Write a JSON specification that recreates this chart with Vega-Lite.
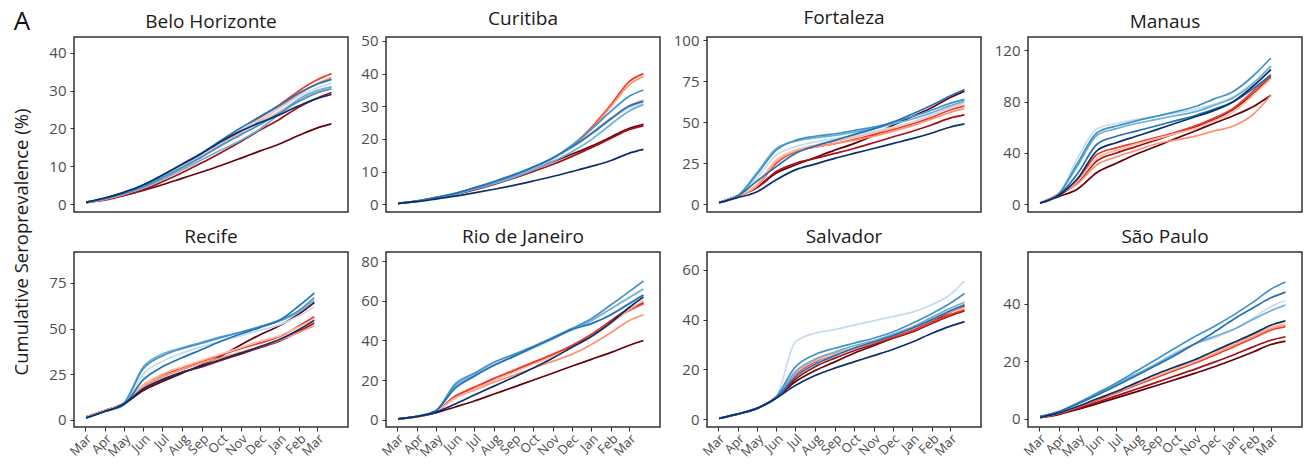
{
"$schema": "https://vega.github.io/schema/vega-lite/v6.json",
"background": "white",
"padding": {"left": 4, "top": 8, "right": 5, "bottom": 2},
"datasets": {
"bh": [
{"s":1,"d":"2020-03-03","v":0.4},{"s":1,"d":"2020-04-01","v":1.3},{"s":1,"d":"2020-05-01","v":2.3},{"s":1,"d":"2020-06-01","v":3.6},{"s":1,"d":"2020-07-01","v":5.1},{"s":1,"d":"2020-08-01","v":6.8},{"s":1,"d":"2020-09-01","v":8.5},{"s":1,"d":"2020-10-01","v":10.2},{"s":1,"d":"2020-11-01","v":12.1},{"s":1,"d":"2020-12-01","v":14},{"s":1,"d":"2021-01-01","v":15.9},{"s":1,"d":"2021-02-01","v":18.2},{"s":1,"d":"2021-03-01","v":20.1},{"s":1,"d":"2021-03-24","v":21.2},
{"s":2,"d":"2020-03-03","v":0.4},{"s":2,"d":"2020-04-01","v":1.0},{"s":2,"d":"2020-05-01","v":2.2},{"s":2,"d":"2020-06-01","v":3.8},{"s":2,"d":"2020-07-01","v":5.9},{"s":2,"d":"2020-08-01","v":8.3},{"s":2,"d":"2020-09-01","v":10.9},{"s":2,"d":"2020-10-01","v":13.6},{"s":2,"d":"2020-11-01","v":16.5},{"s":2,"d":"2020-12-01","v":19.5},{"s":2,"d":"2021-01-01","v":22.4},{"s":2,"d":"2021-02-01","v":25.7},{"s":2,"d":"2021-03-01","v":28.0},{"s":2,"d":"2021-03-24","v":29.5},
{"s":3,"d":"2020-03-03","v":0.4},{"s":3,"d":"2020-04-01","v":1.2},{"s":3,"d":"2020-05-01","v":2.6},{"s":3,"d":"2020-06-01","v":4.5},{"s":3,"d":"2020-07-01","v":6.9},{"s":3,"d":"2020-08-01","v":9.7},{"s":3,"d":"2020-09-01","v":12.8},{"s":3,"d":"2020-10-01","v":15.9},{"s":3,"d":"2020-11-01","v":19.3},{"s":3,"d":"2020-12-01","v":22.8},{"s":3,"d":"2021-01-01","v":26.2},{"s":3,"d":"2021-02-01","v":30.0},{"s":3,"d":"2021-03-01","v":32.8},{"s":3,"d":"2021-03-24","v":34.5},
{"s":4,"d":"2020-03-03","v":0.4},{"s":4,"d":"2020-04-01","v":1.2},{"s":4,"d":"2020-05-01","v":2.5},{"s":4,"d":"2020-06-01","v":4.4},{"s":4,"d":"2020-07-01","v":6.7},{"s":4,"d":"2020-08-01","v":9.4},{"s":4,"d":"2020-09-01","v":12.4},{"s":4,"d":"2020-10-01","v":15.4},{"s":4,"d":"2020-11-01","v":18.8},{"s":4,"d":"2020-12-01","v":22.1},{"s":4,"d":"2021-01-01","v":25.5},{"s":4,"d":"2021-02-01","v":29.1},{"s":4,"d":"2021-03-01","v":31.8},{"s":4,"d":"2021-03-24","v":33.5},
{"s":5,"d":"2020-03-03","v":0.5},{"s":5,"d":"2020-04-01","v":1.4},{"s":5,"d":"2020-05-01","v":2.8},{"s":5,"d":"2020-06-01","v":4.6},{"s":5,"d":"2020-07-01","v":7.1},{"s":5,"d":"2020-08-01","v":9.9},{"s":5,"d":"2020-09-01","v":12.7},{"s":5,"d":"2020-10-01","v":15.8},{"s":5,"d":"2020-11-01","v":18.9},{"s":5,"d":"2020-12-01","v":21.7},{"s":5,"d":"2021-01-01","v":24.5},{"s":5,"d":"2021-02-01","v":27.6},{"s":5,"d":"2021-03-01","v":29.8},{"s":5,"d":"2021-03-24","v":31},
{"s":6,"d":"2020-03-03","v":0.5},{"s":6,"d":"2020-04-01","v":1.4},{"s":6,"d":"2020-05-01","v":2.9},{"s":6,"d":"2020-06-01","v":4.8},{"s":6,"d":"2020-07-01","v":7.4},{"s":6,"d":"2020-08-01","v":10.2},{"s":6,"d":"2020-09-01","v":13.1},{"s":6,"d":"2020-10-01","v":16.3},{"s":6,"d":"2020-11-01","v":19.5},{"s":6,"d":"2020-12-01","v":22.4},{"s":6,"d":"2021-01-01","v":25.3},{"s":6,"d":"2021-02-01","v":28.5},{"s":6,"d":"2021-03-01","v":30.7},{"s":6,"d":"2021-03-24","v":32},
{"s":7,"d":"2020-03-03","v":0.5},{"s":7,"d":"2020-04-01","v":1.3},{"s":7,"d":"2020-05-01","v":2.6},{"s":7,"d":"2020-06-01","v":4.3},{"s":7,"d":"2020-07-01","v":6.5},{"s":7,"d":"2020-08-01","v":9.0},{"s":7,"d":"2020-09-01","v":11.7},{"s":7,"d":"2020-10-01","v":14.3},{"s":7,"d":"2020-11-01","v":16.8},{"s":7,"d":"2020-12-01","v":19.8},{"s":7,"d":"2021-01-01","v":23.8},{"s":7,"d":"2021-02-01","v":27.8},{"s":7,"d":"2021-03-01","v":30.0},{"s":7,"d":"2021-03-24","v":31},
{"s":8,"d":"2020-03-03","v":0.5},{"s":8,"d":"2020-04-01","v":1.4},{"s":8,"d":"2020-05-01","v":2.8},{"s":8,"d":"2020-06-01","v":4.6},{"s":8,"d":"2020-07-01","v":7.0},{"s":8,"d":"2020-08-01","v":9.7},{"s":8,"d":"2020-09-01","v":12.5},{"s":8,"d":"2020-10-01","v":15.5},{"s":8,"d":"2020-11-01","v":18.3},{"s":8,"d":"2020-12-01","v":21.0},{"s":8,"d":"2021-01-01","v":24.0},{"s":8,"d":"2021-02-01","v":27.2},{"s":8,"d":"2021-03-01","v":29.4},{"s":8,"d":"2021-03-24","v":30.5},
{"s":9,"d":"2020-03-03","v":0.5},{"s":9,"d":"2020-04-01","v":1.5},{"s":9,"d":"2020-05-01","v":3.0},{"s":9,"d":"2020-06-01","v":5.0},{"s":9,"d":"2020-07-01","v":7.6},{"s":9,"d":"2020-08-01","v":10.6},{"s":9,"d":"2020-09-01","v":13.5},{"s":9,"d":"2020-10-01","v":16.8},{"s":9,"d":"2020-11-01","v":20.1},{"s":9,"d":"2020-12-01","v":23.1},{"s":9,"d":"2021-01-01","v":26.1},{"s":9,"d":"2021-02-01","v":29.4},{"s":9,"d":"2021-03-01","v":31.7},{"s":9,"d":"2021-03-24","v":33},
{"s":10,"d":"2020-03-03","v":0.5},{"s":10,"d":"2020-04-01","v":1.6},{"s":10,"d":"2020-05-01","v":3.1},{"s":10,"d":"2020-06-01","v":5.1},{"s":10,"d":"2020-07-01","v":7.7},{"s":10,"d":"2020-08-01","v":10.5},{"s":10,"d":"2020-09-01","v":13.4},{"s":10,"d":"2020-10-01","v":16.5},{"s":10,"d":"2020-11-01","v":19.3},{"s":10,"d":"2020-12-01","v":21.5},{"s":10,"d":"2021-01-01","v":23.6},{"s":10,"d":"2021-02-01","v":26.0},{"s":10,"d":"2021-03-01","v":27.9},{"s":10,"d":"2021-03-24","v":29}
],
"cu": [
{"s":1,"d":"2020-03-03","v":0.3},{"s":1,"d":"2020-04-01","v":1.0},{"s":1,"d":"2020-05-01","v":2.0},{"s":1,"d":"2020-06-01","v":3.3},{"s":1,"d":"2020-07-01","v":4.9},{"s":1,"d":"2020-08-01","v":6.7},{"s":1,"d":"2020-09-01","v":8.7},{"s":1,"d":"2020-10-01","v":10.8},{"s":1,"d":"2020-11-01","v":13.0},{"s":1,"d":"2020-12-01","v":15.3},{"s":1,"d":"2021-01-01","v":17.8},{"s":1,"d":"2021-02-01","v":20.6},{"s":1,"d":"2021-03-01","v":23.2},{"s":1,"d":"2021-03-24","v":24.5},
{"s":2,"d":"2020-03-03","v":0.3},{"s":2,"d":"2020-04-01","v":0.9},{"s":2,"d":"2020-05-01","v":1.8},{"s":2,"d":"2020-06-01","v":3.0},{"s":2,"d":"2020-07-01","v":4.4},{"s":2,"d":"2020-08-01","v":6.1},{"s":2,"d":"2020-09-01","v":8.0},{"s":2,"d":"2020-10-01","v":10.0},{"s":2,"d":"2020-11-01","v":12.2},{"s":2,"d":"2020-12-01","v":14.6},{"s":2,"d":"2021-01-01","v":17.3},{"s":2,"d":"2021-02-01","v":20.2},{"s":2,"d":"2021-03-01","v":22.8},{"s":2,"d":"2021-03-24","v":24.0},
{"s":3,"d":"2020-03-03","v":0.3},{"s":3,"d":"2020-04-01","v":1.0},{"s":3,"d":"2020-05-01","v":2.0},{"s":3,"d":"2020-06-01","v":3.3},{"s":3,"d":"2020-07-01","v":4.9},{"s":3,"d":"2020-08-01","v":6.7},{"s":3,"d":"2020-09-01","v":8.7},{"s":3,"d":"2020-10-01","v":11.0},{"s":3,"d":"2020-11-01","v":13.9},{"s":3,"d":"2020-12-01","v":17.8},{"s":3,"d":"2021-01-01","v":23.5},{"s":3,"d":"2021-02-01","v":30.5},{"s":3,"d":"2021-03-01","v":37.5},{"s":3,"d":"2021-03-24","v":40},
{"s":4,"d":"2020-03-03","v":0.3},{"s":4,"d":"2020-04-01","v":1.0},{"s":4,"d":"2020-05-01","v":2.0},{"s":4,"d":"2020-06-01","v":3.3},{"s":4,"d":"2020-07-01","v":4.8},{"s":4,"d":"2020-08-01","v":6.6},{"s":4,"d":"2020-09-01","v":8.6},{"s":4,"d":"2020-10-01","v":10.9},{"s":4,"d":"2020-11-01","v":13.8},{"s":4,"d":"2020-12-01","v":17.5},{"s":4,"d":"2021-01-01","v":23.0},{"s":4,"d":"2021-02-01","v":30.0},{"s":4,"d":"2021-03-01","v":36.5},{"s":4,"d":"2021-03-24","v":39.2},
{"s":5,"d":"2020-03-03","v":0.3},{"s":5,"d":"2020-04-01","v":1.0},{"s":5,"d":"2020-05-01","v":2.1},{"s":5,"d":"2020-06-01","v":3.4},{"s":5,"d":"2020-07-01","v":5.0},{"s":5,"d":"2020-08-01","v":6.8},{"s":5,"d":"2020-09-01","v":8.9},{"s":5,"d":"2020-10-01","v":11.2},{"s":5,"d":"2020-11-01","v":14.0},{"s":5,"d":"2020-12-01","v":17.4},{"s":5,"d":"2021-01-01","v":21.8},{"s":5,"d":"2021-02-01","v":26.5},{"s":5,"d":"2021-03-01","v":30.2},{"s":5,"d":"2021-03-24","v":32},
{"s":6,"d":"2020-03-03","v":0.3},{"s":6,"d":"2020-04-01","v":1.0},{"s":6,"d":"2020-05-01","v":2.0},{"s":6,"d":"2020-06-01","v":3.3},{"s":6,"d":"2020-07-01","v":4.9},{"s":6,"d":"2020-08-01","v":6.7},{"s":6,"d":"2020-09-01","v":8.7},{"s":6,"d":"2020-10-01","v":11.0},{"s":6,"d":"2020-11-01","v":13.8},{"s":6,"d":"2020-12-01","v":17.2},{"s":6,"d":"2021-01-01","v":21.5},{"s":6,"d":"2021-02-01","v":26.0},{"s":6,"d":"2021-03-01","v":29.5},{"s":6,"d":"2021-03-24","v":31},
{"s":7,"d":"2020-03-03","v":0.3},{"s":7,"d":"2020-04-01","v":0.9},{"s":7,"d":"2020-05-01","v":1.9},{"s":7,"d":"2020-06-01","v":3.1},{"s":7,"d":"2020-07-01","v":4.6},{"s":7,"d":"2020-08-01","v":6.3},{"s":7,"d":"2020-09-01","v":8.2},{"s":7,"d":"2020-10-01","v":10.4},{"s":7,"d":"2020-11-01","v":13.0},{"s":7,"d":"2020-12-01","v":16.0},{"s":7,"d":"2021-01-01","v":19.8},{"s":7,"d":"2021-02-01","v":24.5},{"s":7,"d":"2021-03-01","v":28.5},{"s":7,"d":"2021-03-24","v":30.5},
{"s":8,"d":"2020-03-03","v":0.3},{"s":8,"d":"2020-04-01","v":1.0},{"s":8,"d":"2020-05-01","v":2.0},{"s":8,"d":"2020-06-01","v":3.3},{"s":8,"d":"2020-07-01","v":4.9},{"s":8,"d":"2020-08-01","v":6.8},{"s":8,"d":"2020-09-01","v":8.8},{"s":8,"d":"2020-10-01","v":11.2},{"s":8,"d":"2020-11-01","v":14.1},{"s":8,"d":"2020-12-01","v":18.0},{"s":8,"d":"2021-01-01","v":23.0},{"s":8,"d":"2021-02-01","v":28.5},{"s":8,"d":"2021-03-01","v":33.0},{"s":8,"d":"2021-03-24","v":35},
{"s":9,"d":"2020-03-03","v":0.3},{"s":9,"d":"2020-04-01","v":1.0},{"s":9,"d":"2020-05-01","v":2.1},{"s":9,"d":"2020-06-01","v":3.4},{"s":9,"d":"2020-07-01","v":5.1},{"s":9,"d":"2020-08-01","v":7.0},{"s":9,"d":"2020-09-01","v":9.1},{"s":9,"d":"2020-10-01","v":11.4},{"s":9,"d":"2020-11-01","v":14.2},{"s":9,"d":"2020-12-01","v":17.5},{"s":9,"d":"2021-01-01","v":21.6},{"s":9,"d":"2021-02-01","v":26.2},{"s":9,"d":"2021-03-01","v":30.0},{"s":9,"d":"2021-03-24","v":31.5},
{"s":10,"d":"2020-03-03","v":0.3},{"s":10,"d":"2020-04-01","v":0.8},{"s":10,"d":"2020-05-01","v":1.6},{"s":10,"d":"2020-06-01","v":2.5},{"s":10,"d":"2020-07-01","v":3.5},{"s":10,"d":"2020-08-01","v":4.6},{"s":10,"d":"2020-09-01","v":5.8},{"s":10,"d":"2020-10-01","v":7.1},{"s":10,"d":"2020-11-01","v":8.5},{"s":10,"d":"2020-12-01","v":10.0},{"s":10,"d":"2021-01-01","v":11.6},{"s":10,"d":"2021-02-01","v":13.4},{"s":10,"d":"2021-03-01","v":15.6},{"s":10,"d":"2021-03-24","v":16.8}
],
"fo": [
{"s":1,"d":"2020-03-03","v":1},{"s":1,"d":"2020-04-01","v":5},{"s":1,"d":"2020-05-01","v":10},{"s":1,"d":"2020-06-01","v":19},{"s":1,"d":"2020-07-01","v":24},{"s":1,"d":"2020-08-01","v":28.5},{"s":1,"d":"2020-09-01","v":33},{"s":1,"d":"2020-10-01","v":37},{"s":1,"d":"2020-11-01","v":42},{"s":1,"d":"2020-12-01","v":48},{"s":1,"d":"2021-01-01","v":53.5},{"s":1,"d":"2021-02-01","v":59},{"s":1,"d":"2021-03-01","v":65},{"s":1,"d":"2021-03-24","v":69},
{"s":2,"d":"2020-03-03","v":1},{"s":2,"d":"2020-04-01","v":5},{"s":2,"d":"2020-05-01","v":10},{"s":2,"d":"2020-06-01","v":20},{"s":2,"d":"2020-07-01","v":25},{"s":2,"d":"2020-08-01","v":28},{"s":2,"d":"2020-09-01","v":31},{"s":2,"d":"2020-10-01","v":34},{"s":2,"d":"2020-11-01","v":37.5},{"s":2,"d":"2020-12-01","v":41},{"s":2,"d":"2021-01-01","v":44.5},{"s":2,"d":"2021-02-01","v":48.5},{"s":2,"d":"2021-03-01","v":52.5},{"s":2,"d":"2021-03-24","v":54.5},
{"s":3,"d":"2020-03-03","v":1},{"s":3,"d":"2020-04-01","v":5},{"s":3,"d":"2020-05-01","v":11},{"s":3,"d":"2020-06-01","v":25},{"s":3,"d":"2020-07-01","v":32},{"s":3,"d":"2020-08-01","v":35},{"s":3,"d":"2020-09-01","v":37},{"s":3,"d":"2020-10-01","v":39.5},{"s":3,"d":"2020-11-01","v":42.5},{"s":3,"d":"2020-12-01","v":45.5},{"s":3,"d":"2021-01-01","v":49},{"s":3,"d":"2021-02-01","v":53},{"s":3,"d":"2021-03-01","v":57.5},{"s":3,"d":"2021-03-24","v":60},
{"s":4,"d":"2020-03-03","v":1},{"s":4,"d":"2020-04-01","v":5},{"s":4,"d":"2020-05-01","v":11},{"s":4,"d":"2020-06-01","v":26},{"s":4,"d":"2020-07-01","v":32.5},{"s":4,"d":"2020-08-01","v":35},{"s":4,"d":"2020-09-01","v":37},{"s":4,"d":"2020-10-01","v":39},{"s":4,"d":"2020-11-01","v":41.5},{"s":4,"d":"2020-12-01","v":44.5},{"s":4,"d":"2021-01-01","v":48},{"s":4,"d":"2021-02-01","v":52},{"s":4,"d":"2021-03-01","v":56},{"s":4,"d":"2021-03-24","v":58.5},
{"s":5,"d":"2020-03-03","v":1},{"s":5,"d":"2020-04-01","v":5},{"s":5,"d":"2020-05-01","v":12},{"s":5,"d":"2020-06-01","v":27},{"s":5,"d":"2020-07-01","v":33},{"s":5,"d":"2020-08-01","v":36},{"s":5,"d":"2020-09-01","v":38.5},{"s":5,"d":"2020-10-01","v":41},{"s":5,"d":"2020-11-01","v":43.5},{"s":5,"d":"2020-12-01","v":46.5},{"s":5,"d":"2021-01-01","v":50},{"s":5,"d":"2021-02-01","v":54.5},{"s":5,"d":"2021-03-01","v":59},{"s":5,"d":"2021-03-24","v":62},
{"s":6,"d":"2020-03-03","v":1},{"s":6,"d":"2020-04-01","v":5},{"s":6,"d":"2020-05-01","v":16},{"s":6,"d":"2020-06-01","v":30},{"s":6,"d":"2020-07-01","v":35},{"s":6,"d":"2020-08-01","v":38},{"s":6,"d":"2020-09-01","v":40},{"s":6,"d":"2020-10-01","v":42},{"s":6,"d":"2020-11-01","v":44.5},{"s":6,"d":"2020-12-01","v":47},{"s":6,"d":"2021-01-01","v":50},{"s":6,"d":"2021-02-01","v":54.5},{"s":6,"d":"2021-03-01","v":58.5},{"s":6,"d":"2021-03-24","v":61},
{"s":7,"d":"2020-03-03","v":1},{"s":7,"d":"2020-04-01","v":5},{"s":7,"d":"2020-05-01","v":19},{"s":7,"d":"2020-06-01","v":34},{"s":7,"d":"2020-07-01","v":38.5},{"s":7,"d":"2020-08-01","v":40.5},{"s":7,"d":"2020-09-01","v":42},{"s":7,"d":"2020-10-01","v":44},{"s":7,"d":"2020-11-01","v":46},{"s":7,"d":"2020-12-01","v":49},{"s":7,"d":"2021-01-01","v":52},{"s":7,"d":"2021-02-01","v":56},{"s":7,"d":"2021-03-01","v":60},{"s":7,"d":"2021-03-24","v":63},
{"s":8,"d":"2020-03-03","v":1},{"s":8,"d":"2020-04-01","v":5},{"s":8,"d":"2020-05-01","v":18},{"s":8,"d":"2020-06-01","v":33},{"s":8,"d":"2020-07-01","v":39},{"s":8,"d":"2020-08-01","v":41.5},{"s":8,"d":"2020-09-01","v":43},{"s":8,"d":"2020-10-01","v":45},{"s":8,"d":"2020-11-01","v":47},{"s":8,"d":"2020-12-01","v":50},{"s":8,"d":"2021-01-01","v":53.5},{"s":8,"d":"2021-02-01","v":57.5},{"s":8,"d":"2021-03-01","v":61.5},{"s":8,"d":"2021-03-24","v":64},
{"s":9,"d":"2020-03-03","v":1},{"s":9,"d":"2020-04-01","v":5},{"s":9,"d":"2020-05-01","v":14},{"s":9,"d":"2020-06-01","v":23},{"s":9,"d":"2020-07-01","v":31},{"s":9,"d":"2020-08-01","v":35.5},{"s":9,"d":"2020-09-01","v":39},{"s":9,"d":"2020-10-01","v":42.5},{"s":9,"d":"2020-11-01","v":46},{"s":9,"d":"2020-12-01","v":50},{"s":9,"d":"2021-01-01","v":55},{"s":9,"d":"2021-02-01","v":60.5},{"s":9,"d":"2021-03-01","v":66},{"s":9,"d":"2021-03-24","v":70},
{"s":10,"d":"2020-03-03","v":1},{"s":10,"d":"2020-04-01","v":4},{"s":10,"d":"2020-05-01","v":7.5},{"s":10,"d":"2020-06-01","v":15},{"s":10,"d":"2020-07-01","v":21},{"s":10,"d":"2020-08-01","v":24.5},{"s":10,"d":"2020-09-01","v":28},{"s":10,"d":"2020-10-01","v":31},{"s":10,"d":"2020-11-01","v":34},{"s":10,"d":"2020-12-01","v":37},{"s":10,"d":"2021-01-01","v":40},{"s":10,"d":"2021-02-01","v":43.5},{"s":10,"d":"2021-03-01","v":47},{"s":10,"d":"2021-03-24","v":49}
],
"ma": [
{"s":1,"d":"2020-03-03","v":1},{"s":1,"d":"2020-04-01","v":6},{"s":1,"d":"2020-05-01","v":12},{"s":1,"d":"2020-06-01","v":25},{"s":1,"d":"2020-07-01","v":32},{"s":1,"d":"2020-08-01","v":39},{"s":1,"d":"2020-09-01","v":45},{"s":1,"d":"2020-10-01","v":51},{"s":1,"d":"2020-11-01","v":57},{"s":1,"d":"2020-12-01","v":63},{"s":1,"d":"2021-01-01","v":69},{"s":1,"d":"2021-02-01","v":76},{"s":1,"d":"2021-03-01","v":85},
{"s":2,"d":"2020-03-03","v":1},{"s":2,"d":"2020-04-01","v":7},{"s":2,"d":"2020-05-01","v":17},{"s":2,"d":"2020-06-01","v":34},{"s":2,"d":"2020-07-01","v":40},{"s":2,"d":"2020-08-01","v":45},{"s":2,"d":"2020-09-01","v":50},{"s":2,"d":"2020-10-01","v":55},{"s":2,"d":"2020-11-01","v":60},{"s":2,"d":"2020-12-01","v":66},{"s":2,"d":"2021-01-01","v":74},{"s":2,"d":"2021-02-01","v":86},{"s":2,"d":"2021-03-01","v":99},
{"s":3,"d":"2020-03-03","v":1},{"s":3,"d":"2020-04-01","v":8},{"s":3,"d":"2020-05-01","v":19},{"s":3,"d":"2020-06-01","v":39},{"s":3,"d":"2020-07-01","v":44},{"s":3,"d":"2020-08-01","v":48},{"s":3,"d":"2020-09-01","v":52},{"s":3,"d":"2020-10-01","v":56},{"s":3,"d":"2020-11-01","v":61},{"s":3,"d":"2020-12-01","v":67},{"s":3,"d":"2021-01-01","v":75},{"s":3,"d":"2021-02-01","v":88},{"s":3,"d":"2021-03-01","v":100},
{"s":4,"d":"2020-03-03","v":1},{"s":4,"d":"2020-04-01","v":8},{"s":4,"d":"2020-05-01","v":16},{"s":4,"d":"2020-06-01","v":31},{"s":4,"d":"2020-07-01","v":37},{"s":4,"d":"2020-08-01","v":42},{"s":4,"d":"2020-09-01","v":47},{"s":4,"d":"2020-10-01","v":50},{"s":4,"d":"2020-11-01","v":53},{"s":4,"d":"2020-12-01","v":57},{"s":4,"d":"2021-01-01","v":61},{"s":4,"d":"2021-02-01","v":70},{"s":4,"d":"2021-03-01","v":85},
{"s":5,"d":"2020-03-03","v":1},{"s":5,"d":"2020-04-01","v":8},{"s":5,"d":"2020-05-01","v":18},{"s":5,"d":"2020-06-01","v":36},{"s":5,"d":"2020-07-01","v":42},{"s":5,"d":"2020-08-01","v":47},{"s":5,"d":"2020-09-01","v":51},{"s":5,"d":"2020-10-01","v":55},{"s":5,"d":"2020-11-01","v":59},{"s":5,"d":"2020-12-01","v":65},{"s":5,"d":"2021-01-01","v":72},{"s":5,"d":"2021-02-01","v":85},{"s":5,"d":"2021-03-01","v":98},
{"s":6,"d":"2020-03-03","v":1},{"s":6,"d":"2020-04-01","v":8},{"s":6,"d":"2020-05-01","v":36},{"s":6,"d":"2020-06-01","v":59},{"s":6,"d":"2020-07-01","v":63},{"s":6,"d":"2020-08-01","v":66},{"s":6,"d":"2020-09-01","v":68.5},{"s":6,"d":"2020-10-01","v":71},{"s":6,"d":"2020-11-01","v":74},{"s":6,"d":"2020-12-01","v":78},{"s":6,"d":"2021-01-01","v":84},{"s":6,"d":"2021-02-01","v":95},{"s":6,"d":"2021-03-01","v":107},
{"s":7,"d":"2020-03-03","v":1},{"s":7,"d":"2020-04-01","v":8},{"s":7,"d":"2020-05-01","v":30},{"s":7,"d":"2020-06-01","v":54},{"s":7,"d":"2020-07-01","v":59},{"s":7,"d":"2020-08-01","v":63},{"s":7,"d":"2020-09-01","v":66},{"s":7,"d":"2020-10-01","v":69},{"s":7,"d":"2020-11-01","v":72},{"s":7,"d":"2020-12-01","v":77},{"s":7,"d":"2021-01-01","v":83},{"s":7,"d":"2021-02-01","v":94},{"s":7,"d":"2021-03-01","v":108},
{"s":8,"d":"2020-03-03","v":1},{"s":8,"d":"2020-04-01","v":8},{"s":8,"d":"2020-05-01","v":32},{"s":8,"d":"2020-06-01","v":56},{"s":8,"d":"2020-07-01","v":61},{"s":8,"d":"2020-08-01","v":65},{"s":8,"d":"2020-09-01","v":68.5},{"s":8,"d":"2020-10-01","v":72},{"s":8,"d":"2020-11-01","v":76},{"s":8,"d":"2020-12-01","v":82},{"s":8,"d":"2021-01-01","v":88},{"s":8,"d":"2021-02-01","v":100},{"s":8,"d":"2021-03-01","v":114},
{"s":9,"d":"2020-03-03","v":1},{"s":9,"d":"2020-04-01","v":7},{"s":9,"d":"2020-05-01","v":24},{"s":9,"d":"2020-06-01","v":47},{"s":9,"d":"2020-07-01","v":53},{"s":9,"d":"2020-08-01","v":57},{"s":9,"d":"2020-09-01","v":61},{"s":9,"d":"2020-10-01","v":65},{"s":9,"d":"2020-11-01","v":69},{"s":9,"d":"2020-12-01","v":74},{"s":9,"d":"2021-01-01","v":80},{"s":9,"d":"2021-02-01","v":90},{"s":9,"d":"2021-03-01","v":101},
{"s":10,"d":"2020-03-03","v":1},{"s":10,"d":"2020-04-01","v":7},{"s":10,"d":"2020-05-01","v":20},{"s":10,"d":"2020-06-01","v":42},{"s":10,"d":"2020-07-01","v":48},{"s":10,"d":"2020-08-01","v":53},{"s":10,"d":"2020-09-01","v":58},{"s":10,"d":"2020-10-01","v":63},{"s":10,"d":"2020-11-01","v":68},{"s":10,"d":"2020-12-01","v":73},{"s":10,"d":"2021-01-01","v":80},{"s":10,"d":"2021-02-01","v":92},{"s":10,"d":"2021-03-01","v":105}
],
"re": [
{"s":1,"d":"2020-03-03","v":1.5},{"s":1,"d":"2020-04-01","v":5},{"s":1,"d":"2020-05-01","v":8.5},{"s":1,"d":"2020-06-01","v":16},{"s":1,"d":"2020-07-01","v":21},{"s":1,"d":"2020-08-01","v":25.5},{"s":1,"d":"2020-09-01","v":30},{"s":1,"d":"2020-10-01","v":35},{"s":1,"d":"2020-11-01","v":41},{"s":1,"d":"2020-12-01","v":46.5},{"s":1,"d":"2021-01-01","v":51.5},{"s":1,"d":"2021-02-01","v":58},{"s":1,"d":"2021-02-25","v":64.3},
{"s":2,"d":"2020-03-03","v":1.5},{"s":2,"d":"2020-04-01","v":5},{"s":2,"d":"2020-05-01","v":9},{"s":2,"d":"2020-06-01","v":17},{"s":2,"d":"2020-07-01","v":22},{"s":2,"d":"2020-08-01","v":26},{"s":2,"d":"2020-09-01","v":29},{"s":2,"d":"2020-10-01","v":32.5},{"s":2,"d":"2020-11-01","v":36},{"s":2,"d":"2020-12-01","v":39.5},{"s":2,"d":"2021-01-01","v":43},{"s":2,"d":"2021-02-01","v":48.5},{"s":2,"d":"2021-02-25","v":53},
{"s":3,"d":"2020-03-03","v":1.5},{"s":3,"d":"2020-04-01","v":5},{"s":3,"d":"2020-05-01","v":9},{"s":3,"d":"2020-06-01","v":19},{"s":3,"d":"2020-07-01","v":24.5},{"s":3,"d":"2020-08-01","v":28.5},{"s":3,"d":"2020-09-01","v":32},{"s":3,"d":"2020-10-01","v":35.5},{"s":3,"d":"2020-11-01","v":39},{"s":3,"d":"2020-12-01","v":42},{"s":3,"d":"2021-01-01","v":45.5},{"s":3,"d":"2021-02-01","v":51.5},{"s":3,"d":"2021-02-25","v":56.5},
{"s":4,"d":"2020-03-03","v":1.5},{"s":4,"d":"2020-04-01","v":5},{"s":4,"d":"2020-05-01","v":9},{"s":4,"d":"2020-06-01","v":18},{"s":4,"d":"2020-07-01","v":23.5},{"s":4,"d":"2020-08-01","v":27.5},{"s":4,"d":"2020-09-01","v":31},{"s":4,"d":"2020-10-01","v":34},{"s":4,"d":"2020-11-01","v":37},{"s":4,"d":"2020-12-01","v":40},{"s":4,"d":"2021-01-01","v":43.5},{"s":4,"d":"2021-02-01","v":48},{"s":4,"d":"2021-02-25","v":51.5},
{"s":5,"d":"2020-03-03","v":1.5},{"s":5,"d":"2020-04-01","v":5},{"s":5,"d":"2020-05-01","v":9},{"s":5,"d":"2020-06-01","v":19},{"s":5,"d":"2020-07-01","v":25},{"s":5,"d":"2020-08-01","v":29},{"s":5,"d":"2020-09-01","v":32.5},{"s":5,"d":"2020-10-01","v":36},{"s":5,"d":"2020-11-01","v":39.5},{"s":5,"d":"2020-12-01","v":43},{"s":5,"d":"2021-01-01","v":46},{"s":5,"d":"2021-02-01","v":51},{"s":5,"d":"2021-02-25","v":55},
{"s":6,"d":"2020-03-03","v":1},{"s":6,"d":"2020-04-01","v":4.5},{"s":6,"d":"2020-05-01","v":8.5},{"s":6,"d":"2020-06-01","v":25},{"s":6,"d":"2020-07-01","v":32},{"s":6,"d":"2020-08-01","v":36.5},{"s":6,"d":"2020-09-01","v":40},{"s":6,"d":"2020-10-01","v":43},{"s":6,"d":"2020-11-01","v":46},{"s":6,"d":"2020-12-01","v":49},{"s":6,"d":"2021-01-01","v":52},{"s":6,"d":"2021-02-01","v":57},{"s":6,"d":"2021-02-25","v":62},
{"s":7,"d":"2020-03-03","v":1},{"s":7,"d":"2020-04-01","v":4.5},{"s":7,"d":"2020-05-01","v":9},{"s":7,"d":"2020-06-01","v":29},{"s":7,"d":"2020-07-01","v":36},{"s":7,"d":"2020-08-01","v":39.5},{"s":7,"d":"2020-09-01","v":42.5},{"s":7,"d":"2020-10-01","v":45.5},{"s":7,"d":"2020-11-01","v":48},{"s":7,"d":"2020-12-01","v":51},{"s":7,"d":"2021-01-01","v":54},{"s":7,"d":"2021-02-01","v":59},{"s":7,"d":"2021-02-25","v":65.5},
{"s":8,"d":"2020-03-03","v":1},{"s":8,"d":"2020-04-01","v":4.5},{"s":8,"d":"2020-05-01","v":9},{"s":8,"d":"2020-06-01","v":28},{"s":8,"d":"2020-07-01","v":35},{"s":8,"d":"2020-08-01","v":39},{"s":8,"d":"2020-09-01","v":42},{"s":8,"d":"2020-10-01","v":45},{"s":8,"d":"2020-11-01","v":48},{"s":8,"d":"2020-12-01","v":51},{"s":8,"d":"2021-01-01","v":54.5},{"s":8,"d":"2021-02-01","v":60},{"s":8,"d":"2021-02-25","v":67},
{"s":9,"d":"2020-03-03","v":1},{"s":9,"d":"2020-04-01","v":4.5},{"s":9,"d":"2020-05-01","v":8},{"s":9,"d":"2020-06-01","v":22},{"s":9,"d":"2020-07-01","v":29},{"s":9,"d":"2020-08-01","v":34},{"s":9,"d":"2020-09-01","v":38.5},{"s":9,"d":"2020-10-01","v":43},{"s":9,"d":"2020-11-01","v":47},{"s":9,"d":"2020-12-01","v":50.5},{"s":9,"d":"2021-01-01","v":54.5},{"s":9,"d":"2021-02-01","v":62.5},{"s":9,"d":"2021-02-25","v":69.5},
{"s":10,"d":"2020-03-03","v":1},{"s":10,"d":"2020-04-01","v":4.5},{"s":10,"d":"2020-05-01","v":8.5},{"s":10,"d":"2020-06-01","v":17},{"s":10,"d":"2020-07-01","v":22},{"s":10,"d":"2020-08-01","v":26},{"s":10,"d":"2020-09-01","v":29.5},{"s":10,"d":"2020-10-01","v":33},{"s":10,"d":"2020-11-01","v":36.5},{"s":10,"d":"2020-12-01","v":40},{"s":10,"d":"2021-01-01","v":44},{"s":10,"d":"2021-02-01","v":49.5},{"s":10,"d":"2021-02-25","v":54.5}
],
"ri": [
{"s":1,"d":"2020-03-03","v":0.5},{"s":1,"d":"2020-04-01","v":1.5},{"s":1,"d":"2020-05-01","v":3.5},{"s":1,"d":"2020-06-01","v":6.5},{"s":1,"d":"2020-07-01","v":9.5},{"s":1,"d":"2020-08-01","v":13},{"s":1,"d":"2020-09-01","v":16.5},{"s":1,"d":"2020-10-01","v":20},{"s":1,"d":"2020-11-01","v":23.5},{"s":1,"d":"2020-12-01","v":27},{"s":1,"d":"2021-01-01","v":30.5},{"s":1,"d":"2021-02-01","v":34},{"s":1,"d":"2021-03-01","v":37.5},{"s":1,"d":"2021-03-24","v":40},
{"s":2,"d":"2020-03-03","v":0.5},{"s":2,"d":"2020-04-01","v":1.6},{"s":2,"d":"2020-05-01","v":4},{"s":2,"d":"2020-06-01","v":11.5},{"s":2,"d":"2020-07-01","v":16},{"s":2,"d":"2020-08-01","v":20.5},{"s":2,"d":"2020-09-01","v":24.5},{"s":2,"d":"2020-10-01","v":28.5},{"s":2,"d":"2020-11-01","v":32.5},{"s":2,"d":"2020-12-01","v":37},{"s":2,"d":"2021-01-01","v":43},{"s":2,"d":"2021-02-01","v":50},{"s":2,"d":"2021-03-01","v":56},{"s":2,"d":"2021-03-24","v":59},
{"s":3,"d":"2020-03-03","v":0.5},{"s":3,"d":"2020-04-01","v":1.6},{"s":3,"d":"2020-05-01","v":4},{"s":3,"d":"2020-06-01","v":12},{"s":3,"d":"2020-07-01","v":16.5},{"s":3,"d":"2020-08-01","v":21},{"s":3,"d":"2020-09-01","v":25},{"s":3,"d":"2020-10-01","v":29},{"s":3,"d":"2020-11-01","v":33},{"s":3,"d":"2020-12-01","v":37.5},{"s":3,"d":"2021-01-01","v":43},{"s":3,"d":"2021-02-01","v":49.5},{"s":3,"d":"2021-03-01","v":55},{"s":3,"d":"2021-03-24","v":58.5},
{"s":4,"d":"2020-03-03","v":0.5},{"s":4,"d":"2020-04-01","v":1.6},{"s":4,"d":"2020-05-01","v":4},{"s":4,"d":"2020-06-01","v":11},{"s":4,"d":"2020-07-01","v":15},{"s":4,"d":"2020-08-01","v":19},{"s":4,"d":"2020-09-01","v":22.5},{"s":4,"d":"2020-10-01","v":26},{"s":4,"d":"2020-11-01","v":29.5},{"s":4,"d":"2020-12-01","v":33},{"s":4,"d":"2021-01-01","v":38},{"s":4,"d":"2021-02-01","v":44},{"s":4,"d":"2021-03-01","v":50},{"s":4,"d":"2021-03-24","v":53},
{"s":5,"d":"2020-03-03","v":0.5},{"s":5,"d":"2020-04-01","v":1.6},{"s":5,"d":"2020-05-01","v":4},{"s":5,"d":"2020-06-01","v":11},{"s":5,"d":"2020-07-01","v":15.5},{"s":5,"d":"2020-08-01","v":20},{"s":5,"d":"2020-09-01","v":24},{"s":5,"d":"2020-10-01","v":28},{"s":5,"d":"2020-11-01","v":32},{"s":5,"d":"2020-12-01","v":36.5},{"s":5,"d":"2021-01-01","v":42},{"s":5,"d":"2021-02-01","v":48.5},{"s":5,"d":"2021-03-01","v":55.5},{"s":5,"d":"2021-03-24","v":60},
{"s":6,"d":"2020-03-03","v":0.5},{"s":6,"d":"2020-04-01","v":1.8},{"s":6,"d":"2020-05-01","v":4.5},{"s":6,"d":"2020-06-01","v":18.5},{"s":6,"d":"2020-07-01","v":23.5},{"s":6,"d":"2020-08-01","v":28},{"s":6,"d":"2020-09-01","v":32},{"s":6,"d":"2020-10-01","v":36},{"s":6,"d":"2020-11-01","v":40.5},{"s":6,"d":"2020-12-01","v":45},{"s":6,"d":"2021-01-01","v":48.5},{"s":6,"d":"2021-02-01","v":53},{"s":6,"d":"2021-03-01","v":58},{"s":6,"d":"2021-03-24","v":61},
{"s":7,"d":"2020-03-03","v":0.5},{"s":7,"d":"2020-04-01","v":1.8},{"s":7,"d":"2020-05-01","v":4.5},{"s":7,"d":"2020-06-01","v":17},{"s":7,"d":"2020-07-01","v":22.5},{"s":7,"d":"2020-08-01","v":27.5},{"s":7,"d":"2020-09-01","v":32},{"s":7,"d":"2020-10-01","v":36.5},{"s":7,"d":"2020-11-01","v":41},{"s":7,"d":"2020-12-01","v":45.5},{"s":7,"d":"2021-01-01","v":50},{"s":7,"d":"2021-02-01","v":56},{"s":7,"d":"2021-03-01","v":61.5},{"s":7,"d":"2021-03-24","v":66},
{"s":8,"d":"2020-03-03","v":0.5},{"s":8,"d":"2020-04-01","v":1.8},{"s":8,"d":"2020-05-01","v":4.5},{"s":8,"d":"2020-06-01","v":18},{"s":8,"d":"2020-07-01","v":23.5},{"s":8,"d":"2020-08-01","v":29},{"s":8,"d":"2020-09-01","v":33},{"s":8,"d":"2020-10-01","v":37},{"s":8,"d":"2020-11-01","v":41.5},{"s":8,"d":"2020-12-01","v":46},{"s":8,"d":"2021-01-01","v":51},{"s":8,"d":"2021-02-01","v":58},{"s":8,"d":"2021-03-01","v":64.5},{"s":8,"d":"2021-03-24","v":70},
{"s":9,"d":"2020-03-03","v":0.5},{"s":9,"d":"2020-04-01","v":1.8},{"s":9,"d":"2020-05-01","v":4.5},{"s":9,"d":"2020-06-01","v":16},{"s":9,"d":"2020-07-01","v":22},{"s":9,"d":"2020-08-01","v":27.5},{"s":9,"d":"2020-09-01","v":32},{"s":9,"d":"2020-10-01","v":36.5},{"s":9,"d":"2020-11-01","v":41},{"s":9,"d":"2020-12-01","v":45.5},{"s":9,"d":"2021-01-01","v":48.5},{"s":9,"d":"2021-02-01","v":53},{"s":9,"d":"2021-03-01","v":58.5},{"s":9,"d":"2021-03-24","v":63},
{"s":10,"d":"2020-03-03","v":0.5},{"s":10,"d":"2020-04-01","v":1.6},{"s":10,"d":"2020-05-01","v":3.8},{"s":10,"d":"2020-06-01","v":8},{"s":10,"d":"2020-07-01","v":12.5},{"s":10,"d":"2020-08-01","v":17},{"s":10,"d":"2020-09-01","v":21.5},{"s":10,"d":"2020-10-01","v":26},{"s":10,"d":"2020-11-01","v":31},{"s":10,"d":"2020-12-01","v":36.5},{"s":10,"d":"2021-01-01","v":42},{"s":10,"d":"2021-02-01","v":49},{"s":10,"d":"2021-03-01","v":56.5},{"s":10,"d":"2021-03-24","v":62}
],
"sa": [
{"s":1,"d":"2020-03-03","v":0.3},{"s":1,"d":"2020-04-01","v":2},{"s":1,"d":"2020-05-01","v":4.2},{"s":1,"d":"2020-06-01","v":8.5},{"s":1,"d":"2020-07-01","v":15},{"s":1,"d":"2020-08-01","v":19.5},{"s":1,"d":"2020-09-01","v":23},{"s":1,"d":"2020-10-01","v":26.5},{"s":1,"d":"2020-11-01","v":29.5},{"s":1,"d":"2020-12-01","v":32.5},{"s":1,"d":"2021-01-01","v":35.5},{"s":1,"d":"2021-02-01","v":39},{"s":1,"d":"2021-03-01","v":43},{"s":1,"d":"2021-03-24","v":45.5},
{"s":2,"d":"2020-03-03","v":0.3},{"s":2,"d":"2020-04-01","v":2},{"s":2,"d":"2020-05-01","v":4.2},{"s":2,"d":"2020-06-01","v":8.5},{"s":2,"d":"2020-07-01","v":16},{"s":2,"d":"2020-08-01","v":21},{"s":2,"d":"2020-09-01","v":24.5},{"s":2,"d":"2020-10-01","v":27.5},{"s":2,"d":"2020-11-01","v":30},{"s":2,"d":"2020-12-01","v":32.5},{"s":2,"d":"2021-01-01","v":35},{"s":2,"d":"2021-02-01","v":38.5},{"s":2,"d":"2021-03-01","v":41.5},{"s":2,"d":"2021-03-24","v":43.5},
{"s":3,"d":"2020-03-03","v":0.3},{"s":3,"d":"2020-04-01","v":2},{"s":3,"d":"2020-05-01","v":4.2},{"s":3,"d":"2020-06-01","v":9},{"s":3,"d":"2020-07-01","v":18},{"s":3,"d":"2020-08-01","v":23},{"s":3,"d":"2020-09-01","v":26},{"s":3,"d":"2020-10-01","v":28.5},{"s":3,"d":"2020-11-01","v":30.5},{"s":3,"d":"2020-12-01","v":33},{"s":3,"d":"2021-01-01","v":35.5},{"s":3,"d":"2021-02-01","v":39},{"s":3,"d":"2021-03-01","v":42},{"s":3,"d":"2021-03-24","v":44},
{"s":4,"d":"2020-03-03","v":0.3},{"s":4,"d":"2020-04-01","v":2},{"s":4,"d":"2020-05-01","v":4.2},{"s":4,"d":"2020-06-01","v":9},{"s":4,"d":"2020-07-01","v":19},{"s":4,"d":"2020-08-01","v":24},{"s":4,"d":"2020-09-01","v":26.5},{"s":4,"d":"2020-10-01","v":28.5},{"s":4,"d":"2020-11-01","v":31},{"s":4,"d":"2020-12-01","v":33.5},{"s":4,"d":"2021-01-01","v":36.5},{"s":4,"d":"2021-02-01","v":40},{"s":4,"d":"2021-03-01","v":43},{"s":4,"d":"2021-03-24","v":45},
{"s":5,"d":"2020-03-03","v":0.3},{"s":5,"d":"2020-04-01","v":2},{"s":5,"d":"2020-05-01","v":4.2},{"s":5,"d":"2020-06-01","v":9},{"s":5,"d":"2020-07-01","v":18.5},{"s":5,"d":"2020-08-01","v":23.5},{"s":5,"d":"2020-09-01","v":26},{"s":5,"d":"2020-10-01","v":28.5},{"s":5,"d":"2020-11-01","v":31},{"s":5,"d":"2020-12-01","v":34},{"s":5,"d":"2021-01-01","v":37},{"s":5,"d":"2021-02-01","v":40.5},{"s":5,"d":"2021-03-01","v":43.5},{"s":5,"d":"2021-03-24","v":46},
{"s":6,"d":"2020-03-03","v":0.3},{"s":6,"d":"2020-04-01","v":2},{"s":6,"d":"2020-05-01","v":4.2},{"s":6,"d":"2020-06-01","v":9},{"s":6,"d":"2020-07-01","v":31},{"s":6,"d":"2020-08-01","v":34.5},{"s":6,"d":"2020-09-01","v":36},{"s":6,"d":"2020-10-01","v":37.8},{"s":6,"d":"2020-11-01","v":39.5},{"s":6,"d":"2020-12-01","v":41.2},{"s":6,"d":"2021-01-01","v":43},{"s":6,"d":"2021-02-01","v":46},{"s":6,"d":"2021-03-01","v":50},{"s":6,"d":"2021-03-24","v":55.5},
{"s":7,"d":"2020-03-03","v":0.3},{"s":7,"d":"2020-04-01","v":2},{"s":7,"d":"2020-05-01","v":4.3},{"s":7,"d":"2020-06-01","v":8.5},{"s":7,"d":"2020-07-01","v":19},{"s":7,"d":"2020-08-01","v":24},{"s":7,"d":"2020-09-01","v":27},{"s":7,"d":"2020-10-01","v":29.5},{"s":7,"d":"2020-11-01","v":31.5},{"s":7,"d":"2020-12-01","v":34},{"s":7,"d":"2021-01-01","v":37},{"s":7,"d":"2021-02-01","v":41},{"s":7,"d":"2021-03-01","v":44.5},{"s":7,"d":"2021-03-24","v":47},
{"s":8,"d":"2020-03-03","v":0.3},{"s":8,"d":"2020-04-01","v":2},{"s":8,"d":"2020-05-01","v":4.3},{"s":8,"d":"2020-06-01","v":9},{"s":8,"d":"2020-07-01","v":21},{"s":8,"d":"2020-08-01","v":26},{"s":8,"d":"2020-09-01","v":28.5},{"s":8,"d":"2020-10-01","v":30.5},{"s":8,"d":"2020-11-01","v":32.5},{"s":8,"d":"2020-12-01","v":35},{"s":8,"d":"2021-01-01","v":38.5},{"s":8,"d":"2021-02-01","v":42.5},{"s":8,"d":"2021-03-01","v":46.5},{"s":8,"d":"2021-03-24","v":50.5},
{"s":9,"d":"2020-03-03","v":0.3},{"s":9,"d":"2020-04-01","v":2},{"s":9,"d":"2020-05-01","v":4.3},{"s":9,"d":"2020-06-01","v":8.5},{"s":9,"d":"2020-07-01","v":17},{"s":9,"d":"2020-08-01","v":22},{"s":9,"d":"2020-09-01","v":25.5},{"s":9,"d":"2020-10-01","v":28.5},{"s":9,"d":"2020-11-01","v":31},{"s":9,"d":"2020-12-01","v":33.5},{"s":9,"d":"2021-01-01","v":36.5},{"s":9,"d":"2021-02-01","v":40},{"s":9,"d":"2021-03-01","v":43.5},{"s":9,"d":"2021-03-24","v":46},
{"s":10,"d":"2020-03-03","v":0.3},{"s":10,"d":"2020-04-01","v":2},{"s":10,"d":"2020-05-01","v":4.2},{"s":10,"d":"2020-06-01","v":8.5},{"s":10,"d":"2020-07-01","v":13.5},{"s":10,"d":"2020-08-01","v":17.5},{"s":10,"d":"2020-09-01","v":20.5},{"s":10,"d":"2020-10-01","v":23},{"s":10,"d":"2020-11-01","v":25.5},{"s":10,"d":"2020-12-01","v":28},{"s":10,"d":"2021-01-01","v":31},{"s":10,"d":"2021-02-01","v":34.5},{"s":10,"d":"2021-03-01","v":37.3},{"s":10,"d":"2021-03-24","v":39.2}
],
"sp": [
{"s":1,"d":"2020-03-03","v":0.4},{"s":1,"d":"2020-04-01","v":1.5},{"s":1,"d":"2020-05-01","v":3.3},{"s":1,"d":"2020-06-01","v":5.3},{"s":1,"d":"2020-07-01","v":7.3},{"s":1,"d":"2020-08-01","v":9.4},{"s":1,"d":"2020-09-01","v":11.5},{"s":1,"d":"2020-10-01","v":13.6},{"s":1,"d":"2020-11-01","v":15.8},{"s":1,"d":"2020-12-01","v":18},{"s":1,"d":"2021-01-01","v":20.5},{"s":1,"d":"2021-02-01","v":23.2},{"s":1,"d":"2021-03-01","v":25.8},{"s":1,"d":"2021-03-24","v":27},
{"s":2,"d":"2020-03-03","v":0.5},{"s":2,"d":"2020-04-01","v":1.7},{"s":2,"d":"2020-05-01","v":3.6},{"s":2,"d":"2020-06-01","v":5.8},{"s":2,"d":"2020-07-01","v":8},{"s":2,"d":"2020-08-01","v":10.3},{"s":2,"d":"2020-09-01","v":12.6},{"s":2,"d":"2020-10-01","v":14.9},{"s":2,"d":"2020-11-01","v":17.2},{"s":2,"d":"2020-12-01","v":19.6},{"s":2,"d":"2021-01-01","v":22.2},{"s":2,"d":"2021-02-01","v":25},{"s":2,"d":"2021-03-01","v":27.3},{"s":2,"d":"2021-03-24","v":28.5},
{"s":3,"d":"2020-03-03","v":0.5},{"s":3,"d":"2020-04-01","v":1.8},{"s":3,"d":"2020-05-01","v":4},{"s":3,"d":"2020-06-01","v":6.5},{"s":3,"d":"2020-07-01","v":9},{"s":3,"d":"2020-08-01","v":11.7},{"s":3,"d":"2020-09-01","v":14.3},{"s":3,"d":"2020-10-01","v":16.8},{"s":3,"d":"2020-11-01","v":19.3},{"s":3,"d":"2020-12-01","v":22},{"s":3,"d":"2021-01-01","v":25},{"s":3,"d":"2021-02-01","v":28},{"s":3,"d":"2021-03-01","v":30.8},{"s":3,"d":"2021-03-24","v":32},
{"s":4,"d":"2020-03-03","v":0.5},{"s":4,"d":"2020-04-01","v":2},{"s":4,"d":"2020-05-01","v":4.2},{"s":4,"d":"2020-06-01","v":6.8},{"s":4,"d":"2020-07-01","v":9.3},{"s":4,"d":"2020-08-01","v":12},{"s":4,"d":"2020-09-01","v":14.7},{"s":4,"d":"2020-10-01","v":17.3},{"s":4,"d":"2020-11-01","v":19.8},{"s":4,"d":"2020-12-01","v":22.5},{"s":4,"d":"2021-01-01","v":25.5},{"s":4,"d":"2021-02-01","v":28.5},{"s":4,"d":"2021-03-01","v":31.3},{"s":4,"d":"2021-03-24","v":32.5},
{"s":5,"d":"2020-03-03","v":0.5},{"s":5,"d":"2020-04-01","v":2},{"s":5,"d":"2020-05-01","v":4.3},{"s":5,"d":"2020-06-01","v":7},{"s":5,"d":"2020-07-01","v":9.5},{"s":5,"d":"2020-08-01","v":12.3},{"s":5,"d":"2020-09-01","v":15},{"s":5,"d":"2020-10-01","v":17.5},{"s":5,"d":"2020-11-01","v":20},{"s":5,"d":"2020-12-01","v":23},{"s":5,"d":"2021-01-01","v":26},{"s":5,"d":"2021-02-01","v":29},{"s":5,"d":"2021-03-01","v":31.8},{"s":5,"d":"2021-03-24","v":33},
{"s":6,"d":"2020-03-03","v":0.8},{"s":6,"d":"2020-04-01","v":2.5},{"s":6,"d":"2020-05-01","v":5.3},{"s":6,"d":"2020-06-01","v":8.5},{"s":6,"d":"2020-07-01","v":12},{"s":6,"d":"2020-08-01","v":15.5},{"s":6,"d":"2020-09-01","v":19},{"s":6,"d":"2020-10-01","v":23},{"s":6,"d":"2020-11-01","v":26},{"s":6,"d":"2020-12-01","v":28},{"s":6,"d":"2021-01-01","v":31},{"s":6,"d":"2021-02-01","v":35},{"s":6,"d":"2021-03-01","v":39},{"s":6,"d":"2021-03-24","v":41},
{"s":7,"d":"2020-03-03","v":0.8},{"s":7,"d":"2020-04-01","v":2.5},{"s":7,"d":"2020-05-01","v":5.3},{"s":7,"d":"2020-06-01","v":8.5},{"s":7,"d":"2020-07-01","v":12},{"s":7,"d":"2020-08-01","v":15.5},{"s":7,"d":"2020-09-01","v":19},{"s":7,"d":"2020-10-01","v":22.5},{"s":7,"d":"2020-11-01","v":26},{"s":7,"d":"2020-12-01","v":28.5},{"s":7,"d":"2021-01-01","v":31},{"s":7,"d":"2021-02-01","v":34.5},{"s":7,"d":"2021-03-01","v":37.5},{"s":7,"d":"2021-03-24","v":39.5},
{"s":8,"d":"2020-03-03","v":0.8},{"s":8,"d":"2020-04-01","v":2.5},{"s":8,"d":"2020-05-01","v":5.5},{"s":8,"d":"2020-06-01","v":9},{"s":8,"d":"2020-07-01","v":12.5},{"s":8,"d":"2020-08-01","v":16.5},{"s":8,"d":"2020-09-01","v":20.5},{"s":8,"d":"2020-10-01","v":24.5},{"s":8,"d":"2020-11-01","v":28.5},{"s":8,"d":"2020-12-01","v":32},{"s":8,"d":"2021-01-01","v":36},{"s":8,"d":"2021-02-01","v":40.5},{"s":8,"d":"2021-03-01","v":45},{"s":8,"d":"2021-03-24","v":47.5},
{"s":9,"d":"2020-03-03","v":0.8},{"s":9,"d":"2020-04-01","v":2.5},{"s":9,"d":"2020-05-01","v":5.2},{"s":9,"d":"2020-06-01","v":8.3},{"s":9,"d":"2020-07-01","v":11.5},{"s":9,"d":"2020-08-01","v":15},{"s":9,"d":"2020-09-01","v":18.5},{"s":9,"d":"2020-10-01","v":22},{"s":9,"d":"2020-11-01","v":26},{"s":9,"d":"2020-12-01","v":30},{"s":9,"d":"2021-01-01","v":34.5},{"s":9,"d":"2021-02-01","v":38.5},{"s":9,"d":"2021-03-01","v":42},{"s":9,"d":"2021-03-24","v":44},
{"s":10,"d":"2020-03-03","v":0.5},{"s":10,"d":"2020-04-01","v":2},{"s":10,"d":"2020-05-01","v":4.3},{"s":10,"d":"2020-06-01","v":7},{"s":10,"d":"2020-07-01","v":9.5},{"s":10,"d":"2020-08-01","v":12.5},{"s":10,"d":"2020-09-01","v":15.5},{"s":10,"d":"2020-10-01","v":18},{"s":10,"d":"2020-11-01","v":20.5},{"s":10,"d":"2020-12-01","v":23.5},{"s":10,"d":"2021-01-01","v":26.5},{"s":10,"d":"2021-02-01","v":29.5},{"s":10,"d":"2021-03-01","v":32.5},{"s":10,"d":"2021-03-24","v":34}
]
},
"hconcat": [
 {"width": 36, "height": 410, "view": {"stroke": null},
  "title": {"text": "A", "fontSize": 26, "offset": 2, "anchor": "middle", "color": "#111111"},
  "data": {"values": [{"t": "Cumulative Seroprevalence (%)"}]},
  "mark": {"type": "text", "angle": 270, "fontSize": 18.5, "color": "#1a1a1a"},
  "encoding": {"text": {"field": "t"}}},
 {"columns": 4, "spacing": {"row": 13, "column": 11}, "concat": [
  {"title": "Belo Horizonte", "width": 274, "height": 175, "data": {"name": "bh"}, "mark": "line",
   "encoding": {"x": {"field": "d", "type": "temporal", "scale": {"domain": [{"year":2020,"month":2,"date":13},{"year":2021,"month":4,"date":19}]}, "axis": null},
    "y": {"field": "v", "type": "quantitative", "scale": {"domain": [-2.1, 44.2], "nice": false, "zero": false}, "axis": {"values": [0,10,20,30,40], "title": null}},
    "color": {"field": "s", "type": "nominal", "scale": {"domain": [1,2,3,4,5,6,7,8,9,10], "range": ["#67000d","#a50f15","#ef3b2c","#fc9272","#fcbba1","#c6dbef","#6baed6","#4292c6","#2171b5","#08306b"]}, "legend": null}}},
  {"title": "Curitiba", "width": 274, "height": 175, "data": {"name": "cu"}, "mark": "line",
   "encoding": {"x": {"field": "d", "type": "temporal", "scale": {"domain": [{"year":2020,"month":2,"date":13},{"year":2021,"month":4,"date":19}]}, "axis": null},
    "y": {"field": "v", "type": "quantitative", "scale": {"domain": [-2.35, 51.2], "nice": false, "zero": false}, "axis": {"values": [0,10,20,30,40,50], "title": null}},
    "color": {"field": "s", "type": "nominal", "scale": {"domain": [1,2,3,4,5,6,7,8,9,10], "range": ["#67000d","#a50f15","#ef3b2c","#fc9272","#fcbba1","#c6dbef","#6baed6","#4292c6","#2171b5","#08306b"]}, "legend": null}}},
  {"title": "Fortaleza", "width": 274, "height": 175, "data": {"name": "fo"}, "mark": "line",
   "encoding": {"x": {"field": "d", "type": "temporal", "scale": {"domain": [{"year":2020,"month":2,"date":13},{"year":2021,"month":4,"date":19}]}, "axis": null},
    "y": {"field": "v", "type": "quantitative", "scale": {"domain": [-4.7, 102], "nice": false, "zero": false}, "axis": {"values": [0,25,50,75,100], "title": null}},
    "color": {"field": "s", "type": "nominal", "scale": {"domain": [1,2,3,4,5,6,7,8,9,10], "range": ["#67000d","#a50f15","#ef3b2c","#fc9272","#fcbba1","#c6dbef","#6baed6","#4292c6","#2171b5","#08306b"]}, "legend": null}}},
  {"title": "Manaus", "width": 274, "height": 175, "data": {"name": "ma"}, "mark": "line",
   "encoding": {"x": {"field": "d", "type": "temporal", "scale": {"domain": [{"year":2020,"month":2,"date":13},{"year":2021,"month":4,"date":19}]}, "axis": null},
    "y": {"field": "v", "type": "quantitative", "scale": {"domain": [-6, 130.4], "nice": false, "zero": false}, "axis": {"values": [0,40,80,120], "title": null}},
    "color": {"field": "s", "type": "nominal", "scale": {"domain": [1,2,3,4,5,6,7,8,9,10], "range": ["#67000d","#a50f15","#ef3b2c","#fc9272","#fcbba1","#c6dbef","#6baed6","#4292c6","#2171b5","#08306b"]}, "legend": null}}},
  {"title": "Recife", "width": 274, "height": 175, "data": {"name": "re"}, "mark": "line",
   "encoding": {"x": {"field": "d", "type": "temporal", "scale": {"domain": [{"year":2020,"month":2,"date":13},{"year":2021,"month":4,"date":19}]}, "axis": {"values": [{"year":2020,"month":3,"date":1},{"year":2020,"month":4,"date":1},{"year":2020,"month":5,"date":1},{"year":2020,"month":6,"date":1},{"year":2020,"month":7,"date":1},{"year":2020,"month":8,"date":1},{"year":2020,"month":9,"date":1},{"year":2020,"month":10,"date":1},{"year":2020,"month":11,"date":1},{"year":2020,"month":12,"date":1},{"year":2021,"month":1,"date":1},{"year":2021,"month":2,"date":1},{"year":2021,"month":3,"date":1}], "format": "%b", "labelAngle": -45, "labelFontSize": 13, "labelOverlap": false, "labelPadding": 1, "title": null}},
    "y": {"field": "v", "type": "quantitative", "scale": {"domain": [-4, 92], "nice": false, "zero": false}, "axis": {"values": [0,25,50,75], "title": null}},
    "color": {"field": "s", "type": "nominal", "scale": {"domain": [1,2,3,4,5,6,7,8,9,10], "range": ["#67000d","#a50f15","#ef3b2c","#fc9272","#fcbba1","#c6dbef","#6baed6","#4292c6","#2171b5","#08306b"]}, "legend": null}}},
  {"title": "Rio de Janeiro", "width": 274, "height": 175, "data": {"name": "ri"}, "mark": "line",
   "encoding": {"x": {"field": "d", "type": "temporal", "scale": {"domain": [{"year":2020,"month":2,"date":13},{"year":2021,"month":4,"date":19}]}, "axis": {"values": [{"year":2020,"month":3,"date":1},{"year":2020,"month":4,"date":1},{"year":2020,"month":5,"date":1},{"year":2020,"month":6,"date":1},{"year":2020,"month":7,"date":1},{"year":2020,"month":8,"date":1},{"year":2020,"month":9,"date":1},{"year":2020,"month":10,"date":1},{"year":2020,"month":11,"date":1},{"year":2020,"month":12,"date":1},{"year":2021,"month":1,"date":1},{"year":2021,"month":2,"date":1},{"year":2021,"month":3,"date":1}], "format": "%b", "labelAngle": -45, "labelFontSize": 13, "labelOverlap": false, "labelPadding": 1, "title": null}},
    "y": {"field": "v", "type": "quantitative", "scale": {"domain": [-3.6, 84.6], "nice": false, "zero": false}, "axis": {"values": [0,20,40,60,80], "title": null}},
    "color": {"field": "s", "type": "nominal", "scale": {"domain": [1,2,3,4,5,6,7,8,9,10], "range": ["#67000d","#a50f15","#ef3b2c","#fc9272","#fcbba1","#c6dbef","#6baed6","#4292c6","#2171b5","#08306b"]}, "legend": null}}},
  {"title": "Salvador", "width": 274, "height": 175, "data": {"name": "sa"}, "mark": "line",
   "encoding": {"x": {"field": "d", "type": "temporal", "scale": {"domain": [{"year":2020,"month":2,"date":13},{"year":2021,"month":4,"date":19}]}, "axis": {"values": [{"year":2020,"month":3,"date":1},{"year":2020,"month":4,"date":1},{"year":2020,"month":5,"date":1},{"year":2020,"month":6,"date":1},{"year":2020,"month":7,"date":1},{"year":2020,"month":8,"date":1},{"year":2020,"month":9,"date":1},{"year":2020,"month":10,"date":1},{"year":2020,"month":11,"date":1},{"year":2020,"month":12,"date":1},{"year":2021,"month":1,"date":1},{"year":2021,"month":2,"date":1},{"year":2021,"month":3,"date":1}], "format": "%b", "labelAngle": -45, "labelFontSize": 13, "labelOverlap": false, "labelPadding": 1, "title": null}},
    "y": {"field": "v", "type": "quantitative", "scale": {"domain": [-3.2, 67.2], "nice": false, "zero": false}, "axis": {"values": [0,20,40,60], "title": null}},
    "color": {"field": "s", "type": "nominal", "scale": {"domain": [1,2,3,4,5,6,7,8,9,10], "range": ["#67000d","#a50f15","#ef3b2c","#fc9272","#fcbba1","#c6dbef","#6baed6","#4292c6","#2171b5","#08306b"]}, "legend": null}}},
  {"title": "São Paulo", "width": 274, "height": 175, "data": {"name": "sp"}, "mark": "line",
   "encoding": {"x": {"field": "d", "type": "temporal", "scale": {"domain": [{"year":2020,"month":2,"date":13},{"year":2021,"month":4,"date":19}]}, "axis": {"values": [{"year":2020,"month":3,"date":1},{"year":2020,"month":4,"date":1},{"year":2020,"month":5,"date":1},{"year":2020,"month":6,"date":1},{"year":2020,"month":7,"date":1},{"year":2020,"month":8,"date":1},{"year":2020,"month":9,"date":1},{"year":2020,"month":10,"date":1},{"year":2020,"month":11,"date":1},{"year":2020,"month":12,"date":1},{"year":2021,"month":1,"date":1},{"year":2021,"month":2,"date":1},{"year":2021,"month":3,"date":1}], "format": "%b", "labelAngle": -45, "labelFontSize": 13, "labelOverlap": false, "labelPadding": 1, "title": null}},
    "y": {"field": "v", "type": "quantitative", "scale": {"domain": [-2.8, 57.9], "nice": false, "zero": false}, "axis": {"values": [0,20,40], "title": null}},
    "color": {"field": "s", "type": "nominal", "scale": {"domain": [1,2,3,4,5,6,7,8,9,10], "range": ["#67000d","#a50f15","#ef3b2c","#fc9272","#fcbba1","#c6dbef","#6baed6","#4292c6","#2171b5","#08306b"]}, "legend": null}}}
 ]}
],
"spacing": 8,
"config": {
 "font": "Open Sans",
 "view": {"stroke": "#333333", "strokeWidth": 1.5},
 "axis": {"grid": false, "domain": false, "tickColor": "#333333", "tickSize": 4, "tickWidth": 1, "labelColor": "#4d4d4d", "labelFontSize": 15, "labelPadding": 4},
 "title": {"fontSize": 19, "fontWeight": "normal", "color": "#1a1a1a", "offset": 5},
 "line": {"strokeWidth": 1.7, "interpolate": "monotone"}
}
}
